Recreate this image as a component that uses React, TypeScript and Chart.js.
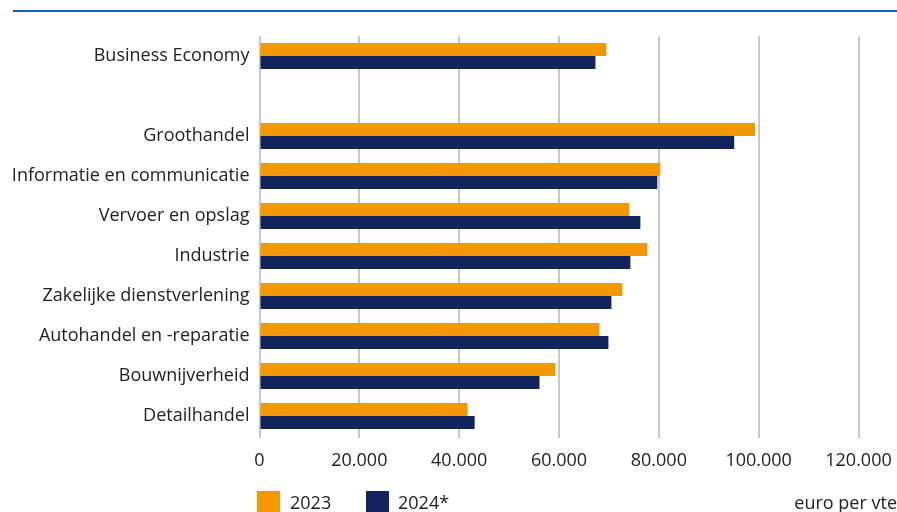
import React, { useEffect, useRef } from "react";
import { Chart, registerables } from "chart.js";

Chart.register(...registerables);

const categories = [
  "Business Economy",
  "",
  "Groothandel",
  "Informatie en communicatie",
  "Vervoer en opslag",
  "Industrie",
  "Zakelijke dienstverlening",
  "Autohandel en -reparatie",
  "Bouwnijverheid",
  "Detailhandel",
];

const values2023 = [69500, null, 99300, 80300, 74100, 77700, 72700, 68100, 59300, 41700];
const values2024 = [67300, null, 95100, 79700, 76300, 74300, 70500, 69900, 56100, 43100];

const seriesLabels = ["2023", "2024*"];
const seriesColors = ["#F39800", "#13235B"];
const unitLabel = "euro per vte";

const xMin = 0;
const xMax = 120000;
const xStep = 20000;

const FONT = "'Open Sans', sans-serif";
const TEXT = "#222222";

function fmt(v: number): string {
  return String(Math.round(v)).replace(/\B(?=(\d{3})+(?!\d))/g, ".");
}

export default function App() {
  const ref = useRef<HTMLCanvasElement | null>(null);

  useEffect(() => {
    if (!ref.current) return;
    const chart = new Chart(ref.current, {
      type: "bar",
      data: {
        labels: categories,
        datasets: [
          {
            label: seriesLabels[0],
            data: values2023,
            backgroundColor: seriesColors[0],
            categoryPercentage: 0.65,
            barPercentage: 1,
          },
          {
            label: seriesLabels[1],
            data: values2024,
            backgroundColor: seriesColors[1],
            categoryPercentage: 0.65,
            barPercentage: 1,
          },
        ],
      },
      options: {
        indexAxis: "y",
        animation: false,
        responsive: false,
        maintainAspectRatio: false,
        layout: { padding: { top: 36, right: 38.5, bottom: 0, left: 0 } },
        plugins: {
          legend: { display: false },
          tooltip: { enabled: false },
        },
        scales: {
          x: {
            min: xMin,
            max: xMax,
            border: { display: false },
            grid: {
              color: "#c8c8c8",
              lineWidth: 2,
              drawTicks: true,
              tickLength: 2,
            },
            ticks: {
              stepSize: xStep,
              padding: 12,
              color: TEXT,
              font: { family: FONT, size: 18 },
              maxRotation: 0,
              callback: (v: any) => fmt(Number(v)),
            },
            afterFit: (scale: any) => {
              scale.height = 76;
              scale.paddingRight = 0;
              scale.paddingLeft = 0;
            },
          },
          y: {
            border: { display: false },
            grid: { display: false, drawTicks: false },
            ticks: {
              autoSkip: false,
              padding: 10,
              color: TEXT,
              font: { family: FONT, size: 18 },
            },
            afterFit: (scale: any) => {
              scale.width = 259.5;
              scale.paddingTop = 0;
              scale.paddingBottom = 0;
            },
          },
        },
      },
    });
    return () => chart.destroy();
  }, []);

  const textStyle: React.CSSProperties = {
    position: "absolute",
    fontFamily: FONT,
    fontSize: 18,
    color: TEXT,
    lineHeight: "22px",
    whiteSpace: "nowrap",
  };

  return (
    <div
      style={{
        position: "absolute",
        left: 0,
        top: 0,
        width: 897,
        height: 512,
        background: "#ffffff",
        overflow: "hidden",
      }}
    >
      <div
        style={{
          position: "absolute",
          left: 13,
          top: 10,
          width: 884,
          height: 2,
          background: "#1b59a9",
        }}
      />
      <canvas
        ref={ref}
        width={897}
        height={512}
        style={{ position: "absolute", left: 0, top: 0, width: 897, height: 512 }}
      />
      <div style={{ position: "absolute", left: 257, top: 491, width: 23, height: 21, background: seriesColors[0] }} />
      <div style={{ ...textStyle, left: 290, top: 491 }}>{seriesLabels[0]}</div>
      <div style={{ position: "absolute", left: 366, top: 491, width: 23, height: 21, background: seriesColors[1] }} />
      <div style={{ ...textStyle, left: 398, top: 491 }}>{seriesLabels[1]}</div>
      <div style={{ ...textStyle, right: 0, top: 491, textAlign: "right" }}>{unitLabel}</div>
    </div>
  );
}
